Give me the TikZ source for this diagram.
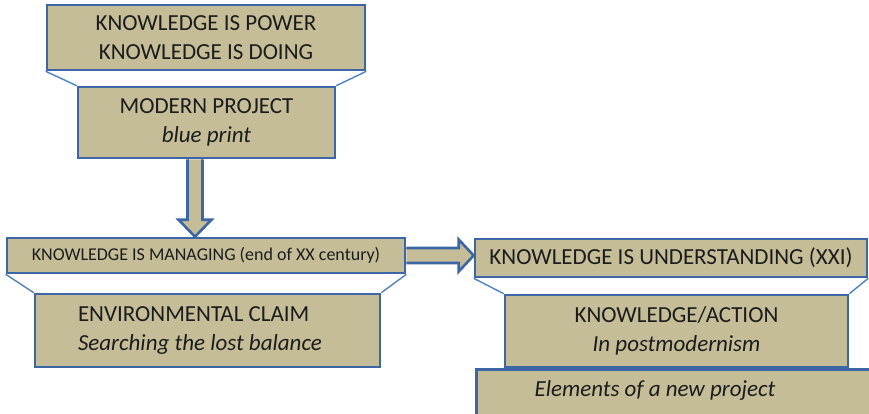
\documentclass[tikz,border=0pt]{standalone}
\usepackage{fontspec}
\setmainfont{Carlito}
\usepackage{tikz}
\usetikzlibrary{arrows.meta,positioning,calc}
\definecolor{clTan}{HTML}{C4BD97}
\definecolor{clEdge}{HTML}{3C66A6}
\definecolor{clLink}{HTML}{4F81BD}
\definecolor{clInk}{HTML}{1C1C1C}
\tikzset{
  slab/.style={rectangle, draw=clEdge, fill=clTan, line width=2.6pt, align=center,
               text=clInk, inner sep=0pt, font=\fontsize{23}{29}\selectfont},
  slabsmall/.style={slab, font=\fontsize{18}{22}\selectfont},
  tie/.style={draw=clLink, line width=1.4pt},
  blockarrow/.style={draw=clEdge, fill=clTan, line width=2.6pt, line join=miter},
}

\begin{document}
\begin{tikzpicture}[x=1pt, y=-1pt]
  \clip (0,0) rectangle (869,413);
  % left column
  \node[slab, minimum width=318pt, minimum height=65pt] (power) at (206,37.5)
       {KNOWLEDGE IS POWER\\KNOWLEDGE IS DOING};
  \node[slab, minimum width=257pt, minimum height=71pt] (modern) at (206.5,122.5)
       {MODERN PROJECT\\\textit{blue print}};
  \node[slabsmall, minimum width=398pt, minimum height=35pt] (managing) at (206,255.5)
       {KNOWLEDGE IS MANAGING (end of XX century)};
  \node[slab, minimum height=73pt, text width=259pt, inner xsep=43pt, align=flush left] (claim) at (207.5,330.5)
       {ENVIRONMENTAL CLAIM\\\textit{Searching the lost balance}};
  % right column
  \node[slab, minimum width=392pt, minimum height=38pt] (understanding) at (671,258)
       {KNOWLEDGE IS UNDERSTANDING (XXI)};
  \node[slab, minimum width=343pt, minimum height=72pt] (action) at (676.5,331)
       {KNOWLEDGE/ACTION\\\textit{In postmodernism}};
  \node[slab, minimum width=410pt, minimum height=60pt, anchor=north west] (elements) at (475,368) {};
  \node[font=\fontsize{23}{29}\selectfont\itshape, text=clInk] (elementstext) at (655,390)
       {Elements of a new project};

  % trapezoid ties
  \draw[tie] (power.south west) -- (modern.north west);
  \draw[tie] (power.south east) -- (modern.north east);
  \draw[tie] (managing.south west) -- (claim.north west);
  \draw[tie] (managing.south east) -- (claim.north east);
  \draw[tie] (understanding.south west) -- (action.north west);
  \draw[tie] (understanding.south east) -- (action.north east);

  % block arrows
  \path (modern.south) ++(-11.5,0) coordinate (vtop);
  \path (vtop |- managing.north) coordinate (vtip);
  \filldraw[blockarrow] ($(vtop)+(-7.5,0)$) -- ($(vtip)+(-7.5,-17)$) -- ($(vtip)+(-16.5,-17)$)
    -- (vtip) -- ($(vtip)+(16.5,-17)$) -- ($(vtip)+(7.5,-17)$) -- ($(vtop)+(7.5,0)$);
  \path (understanding.west |- managing.east) coordinate (htip);
  \filldraw[blockarrow] ($(managing.east)+(0,-7.5)$) -- ($(htip)+(-15,-7.5)$) -- ($(htip)+(-15,-16)$)
    -- (htip) -- ($(htip)+(-15,16)$) -- ($(htip)+(-15,7.5)$) -- ($(managing.east)+(0,7.5)$);
\end{tikzpicture}
\end{document}
